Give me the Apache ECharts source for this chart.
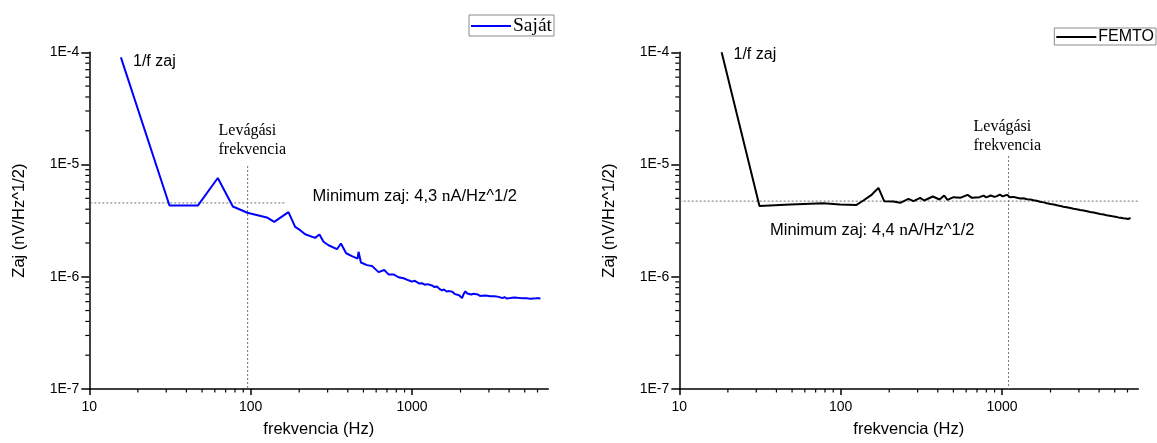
<!DOCTYPE html>
<html>
<head>
<meta charset="utf-8">
<script src="https://cdn.jsdelivr.net/npm/echarts@6/dist/echarts.min.js"></script>
<style>
  html, body { margin: 0; padding: 0; background: #fff; }
  #chart { width: 1157px; height: 443px; }
</style>
</head>
<body>
<div id="chart"></div>
<script>
// Noise spectral density of the own amplifier ("Saját") and the FEMTO amplifier
const sajatFreq = [15.7, 31.4, 47.2, 62.6, 77.6, 95.5, 126, 140, 171.6, 188.8, 202.8, 217.8, 251, 267, 283, 304, 343, 362.7, 391, 424.6, 460, 466.6, 482.7, 526, 565, 621, 673, 716, 769, 826, 887, 953,
  1000, 1040, 1074, 1110, 1153, 1200, 1250, 1331, 1380, 1430, 1480, 1535, 1580, 1640, 1700, 1729, 1780, 1850, 1900, 1960, 1995, 2044, 2090, 2143, 2200, 2260, 2330, 2412, 2480, 2560, 2640, 2718, 2790, 2870, 2950, 3062,
  3140, 3250, 3340, 3450, 3532, 3640, 3750, 3860, 3960, 4073, 4180, 4290, 4400, 4520, 4600, 4698, 4820, 4950, 5080, 5200, 5300, 5418, 5530, 5650, 5760, 5880, 6000, 6120, 6250];
const sajatNoise = [9.0e-5, 4.32e-6, 4.32e-6, 7.59e-6, 4.23e-6, 3.72e-6, 3.38e-6, 3.08e-6, 3.77e-6, 2.78e-6, 2.60e-6, 2.39e-6, 2.22e-6, 2.38e-6, 2.05e-6, 1.91e-6, 1.76e-6, 1.98e-6, 1.62e-6, 1.53e-6, 1.45e-6, 1.67e-6, 1.34e-6, 1.27e-6, 1.25e-6, 1.10e-6, 1.15e-6, 1.05e-6, 1.05e-6, 9.9e-7, 9.7e-7, 9.3e-7,
  9.05e-7, 9.2e-7, 8.95e-7, 8.7e-7, 8.77e-7, 8.5e-7, 8.6e-7, 8.37e-7, 8.1e-7, 8.2e-7, 7.8e-7, 7.56e-7, 7.7e-7, 7.4e-7, 7.45e-7, 7.26e-7, 7.35e-7, 7.0e-7, 7.1e-7, 6.85e-7, 6.77e-7, 6.45e-7, 7.0e-7, 7.41e-7, 7.1e-7, 7.2e-7, 6.95e-7, 7.06e-7, 6.85e-7, 6.95e-7, 6.75e-7, 6.77e-7, 6.6e-7, 6.8e-7, 6.65e-7, 6.69e-7,
  6.5e-7, 6.7e-7, 6.55e-7, 6.62e-7, 6.56e-7, 6.45e-7, 6.6e-7, 6.4e-7, 6.55e-7, 6.47e-7, 6.35e-7, 6.55e-7, 6.4e-7, 6.5e-7, 6.3e-7, 6.47e-7, 6.35e-7, 6.45e-7, 6.3e-7, 6.42e-7, 6.28e-7, 6.37e-7, 6.25e-7, 6.4e-7, 6.27e-7, 6.42e-7, 6.3e-7, 6.45e-7, 6.37e-7];

const femtoFreq = [18.3, 31.4, 48.7, 78.2, 99.3, 124.8, 138.4, 156.2, 171.6, 186.2, 212.6, 233.9, 263.4, 283, 311, 329.5, 373, 410, 438.5, 459.7, 501, 551, 612, 651.6, 726, 769,
  800, 850, 900, 931, 970, 1010, 1074,
  1100, 1120, 1150, 1180, 1210, 1239, 1270, 1300, 1330, 1360, 1395, 1430, 1465, 1499, 1535, 1570, 1605, 1640, 1680, 1720, 1765, 1813, 1855, 1900, 1950, 2000, 2050, 2100, 2150, 2194, 2250, 2300, 2350, 2400, 2460, 2520, 2590, 2655, 2720, 2780, 2840, 2900, 2980,
  3050, 3120, 3200, 3290, 3370, 3450, 3520, 3610, 3700, 3790, 3880, 3960, 4050, 4160, 4274, 4360, 4450, 4550, 4650, 4750, 4850, 4950, 5050, 5176, 5260, 5350, 5450, 5550, 5650, 5750, 5850, 5950, 6050, 6100, 6180, 6266];
const femtoNoise = [1.0e-4, 4.27e-6, 4.41e-6, 4.53e-6, 4.41e-6, 4.35e-6, 4.78e-6, 5.40e-6, 6.19e-6, 4.72e-6, 4.69e-6, 4.56e-6, 4.95e-6, 4.72e-6, 5.05e-6, 4.78e-6, 5.19e-6, 4.88e-6, 5.29e-6, 4.85e-6, 5.12e-6, 5.05e-6, 5.37e-6, 5.05e-6, 5.12e-6, 5.29e-6,
  5.1e-6, 5.3e-6, 5.15e-6, 5.23e-6, 5.4e-6, 5.2e-6, 5.37e-6,
  5.28e-6, 5.1e-6, 5.3e-6, 5.15e-6, 5.22e-6, 5.05e-6, 5.18e-6, 4.98e-6, 5.12e-6, 5.0e-6, 5.08e-6, 4.9e-6, 5.02e-6, 4.88e-6, 4.96e-6, 4.8e-6, 4.9e-6, 4.75e-6, 4.82e-6, 4.66e-6, 4.75e-6, 4.6e-6, 4.68e-6, 4.52e-6, 4.6e-6, 4.45e-6, 4.52e-6, 4.4e-6, 4.46e-6, 4.33e-6, 4.4e-6, 4.28e-6, 4.34e-6, 4.2e-6, 4.28e-6, 4.17e-6, 4.22e-6, 4.1e-6, 4.16e-6, 4.03e-6, 4.1e-6, 4.0e-6, 4.06e-6,
  3.94e-6, 4.0e-6, 3.9e-6, 3.96e-6, 3.84e-6, 3.9e-6, 3.78e-6, 3.84e-6, 3.73e-6, 3.8e-6, 3.68e-6, 3.74e-6, 3.63e-6, 3.69e-6, 3.58e-6, 3.64e-6, 3.54e-6, 3.6e-6, 3.5e-6, 3.56e-6, 3.46e-6, 3.52e-6, 3.43e-6, 3.48e-6, 3.38e-6, 3.44e-6, 3.35e-6, 3.41e-6, 3.32e-6, 3.38e-6, 3.3e-6, 3.36e-6, 3.27e-6, 3.33e-6, 3.26e-6, 3.34e-6];

// Axis ranges and minor tick positions (2..9 per decade)
const freqRange = [10, 7000];
const noiseRange = [1e-7, 1e-4];
const freqMinorTicks = [20, 30, 40, 50, 60, 70, 80, 90, 200, 300, 400, 500, 600, 700, 800, 900, 2000, 3000, 4000, 5000, 6000];
const noiseMinorTicks = [2e-7, 3e-7, 4e-7, 5e-7, 6e-7, 7e-7, 8e-7, 9e-7, 2e-6, 3e-6, 4e-6, 5e-6, 6e-6, 7e-6, 8e-6, 9e-6, 2e-5, 3e-5, 4e-5, 5e-5, 6e-5, 7e-5, 8e-5, 9e-5];

// Guide lines: minimum noise level and cut-off frequency
const sajatMinLevel = { from: 6.8, to: 166, value: 4.55e-6 };
const sajatCutoff = { freq: 95.8, top: 9.7e-6 };
const femtoMinLevel = { from: 6.74, to: 7000, value: 4.72e-6 };
const femtoCutoff = { freq: 1099, top: 1.19e-5 };

const SANS = "'Liberation Sans', Arial, sans-serif";
const SERIF = "'Liberation Serif', 'Times New Roman', serif";

const zip = (xs, ys) => xs.map((x, i) => [x, ys[i]]);

function makeXAxis(gi) {
  return {
    type: 'log', logBase: 10, gridIndex: gi, min: freqRange[0], max: freqRange[1],
    name: 'frekvencia (Hz)', nameLocation: 'middle', nameGap: 32,
    nameTextStyle: { fontFamily: SANS, fontSize: 16.5, color: '#000' },
    axisLine: { show: true, lineStyle: { color: '#000', width: 1.5 } },
    axisTick: { show: true, inside: false, length: 6, lineStyle: { color: '#000', width: 1.5 } },
    axisLabel: { fontFamily: SANS, fontSize: 14, color: '#000', margin: 11, showMaxLabel: false,
      formatter: v => String(Math.round(v)) },
    splitLine: { show: false }, minorTick: { show: false }
  };
}
function makeYAxis(gi) {
  return {
    type: 'log', logBase: 10, gridIndex: gi, min: noiseRange[0], max: noiseRange[1],
    name: 'Zaj (nV/Hz^1/2)', nameLocation: 'middle', nameGap: 61,
    nameTextStyle: { fontFamily: SANS, fontSize: 16.5, color: '#000' },
    axisLine: { show: true, lineStyle: { color: '#000', width: 1.5 } },
    axisTick: { show: true, inside: false, length: 8, lineStyle: { color: '#000', width: 1.5 } },
    axisLabel: {
      fontFamily: SANS, fontSize: 14, color: '#000', margin: 10,
      formatter: v => '1E' + Math.round(Math.log10(v))
    },
    splitLine: { show: false }, minorTick: { show: false }
  };
}

function minorTickSeries(gi) {
  const xs = freqMinorTicks.map(f => [f, noiseRange[0], 0]);
  const ys = noiseMinorTicks.map(v => [freqRange[0], v, 1]);
  return {
    type: 'custom', xAxisIndex: gi, yAxisIndex: gi, silent: true, clip: false, z: 5,
    data: xs.concat(ys),
    renderItem: (params, api) => {
      const p = api.coord([api.value(0), api.value(1)]);
      const vertical = api.value(2) === 0;
      return {
        type: 'line',
        shape: vertical ? { x1: p[0], y1: p[1], x2: p[0], y2: p[1] + 3.5 }
                        : { x1: p[0], y1: p[1], x2: p[0] - 4, y2: p[1] },
        style: { stroke: '#000', lineWidth: 1.2 }
      };
    }
  };
}

function guideSeries(gi, level, cutoff) {
  const style = { color: '#707070', width: 1, type: [2, 2] };
  return [
    { type: 'line', xAxisIndex: gi, yAxisIndex: gi, silent: true, clip: false, symbol: 'none', z: 1,
      lineStyle: style, data: [[level.from, level.value], [level.to, level.value]] },
    { type: 'line', xAxisIndex: gi, yAxisIndex: gi, silent: true, clip: false, symbol: 'none', z: 1,
      lineStyle: style, data: [[cutoff.freq, cutoff.top], [cutoff.freq, noiseRange[0]]] }
  ];
}

const chart = echarts.init(document.getElementById('chart'), null, { renderer: 'canvas' });

const legendBase = {
  orient: 'horizontal', borderColor: '#8a8a8a', borderWidth: 1, borderRadius: 0,
  padding: [1, 2, 0, 2], itemWidth: 40, itemHeight: 2, itemGap: 0, icon: 'rect', selectedMode: false
};

chart.setOption({
  animation: false,
  backgroundColor: '#fff',
  grid: [
    { left: 89.3, top: 52.3, width: 459, height: 339.4 },
    { left: 679.3, top: 52.3, width: 459, height: 339.4 }
  ],
  xAxis: [makeXAxis(0), makeXAxis(1)],
  yAxis: [makeYAxis(0), makeYAxis(1)],
  legend: [
    Object.assign({}, legendBase, { left: 469, top: 15, data: ['Saját'],
      textStyle: { fontFamily: SERIF, fontSize: 19.5, color: '#000', padding: [0, 1, 0, -3] } }),
    Object.assign({}, legendBase, { right: 1, top: 28, data: ['FEMTO'],
      textStyle: { fontFamily: SANS, fontSize: 16, color: '#000', padding: [0, 0, 0, -3] } })
  ],
  graphic: [
    { type: 'text', style: { text: '1/f zaj', x: 133, y: 62, textVerticalAlign: 'middle', font: '16px ' + SANS, fill: '#000' } },
    { type: 'text', style: { text: 'Levágási\nfrekvencia', x: 218.5, y: 121.5, lineHeight: 19, font: '16px ' + SERIF, fill: '#000' } },
    { type: 'text', style: {
        text: '{a|Minimum zaj: 4,3 }{s|n}{a|A/Hz^1/2}', x: 312.5, y: 196.7, textVerticalAlign: 'middle',
        rich: { a: { fontFamily: SANS, fontSize: 16.5, fill: '#000' }, s: { fontFamily: SERIF, fontSize: 17.5, fill: '#000' } } } },
    { type: 'text', style: { text: '1/f zaj', x: 733.5, y: 55, textVerticalAlign: 'middle', font: '16px ' + SANS, fill: '#000' } },
    { type: 'text', style: { text: 'Levágási\nfrekvencia', x: 973.5, y: 117, lineHeight: 19, font: '16px ' + SERIF, fill: '#000' } },
    { type: 'text', style: {
        text: '{a|Minimum zaj: 4,4 }{s|n}{a|A/Hz^1/2}', x: 770, y: 230.7, textVerticalAlign: 'middle',
        rich: { a: { fontFamily: SANS, fontSize: 16.5, fill: '#000' }, s: { fontFamily: SERIF, fontSize: 17.5, fill: '#000' } } } }
  ],
  series: [
    ...guideSeries(0, sajatMinLevel, sajatCutoff),
    ...guideSeries(1, femtoMinLevel, femtoCutoff),
    minorTickSeries(0),
    minorTickSeries(1),
    { name: 'Saját', type: 'line', xAxisIndex: 0, yAxisIndex: 0, symbol: 'none', z: 3,
      lineStyle: { color: '#0000ff', width: 2 }, itemStyle: { color: '#0000ff' },
      data: zip(sajatFreq, sajatNoise) },
    { name: 'FEMTO', type: 'line', xAxisIndex: 1, yAxisIndex: 1, symbol: 'none', z: 3,
      lineStyle: { color: '#000', width: 2 }, itemStyle: { color: '#000' },
      data: zip(femtoFreq, femtoNoise) }
  ]
});
</script>
</body>
</html>
